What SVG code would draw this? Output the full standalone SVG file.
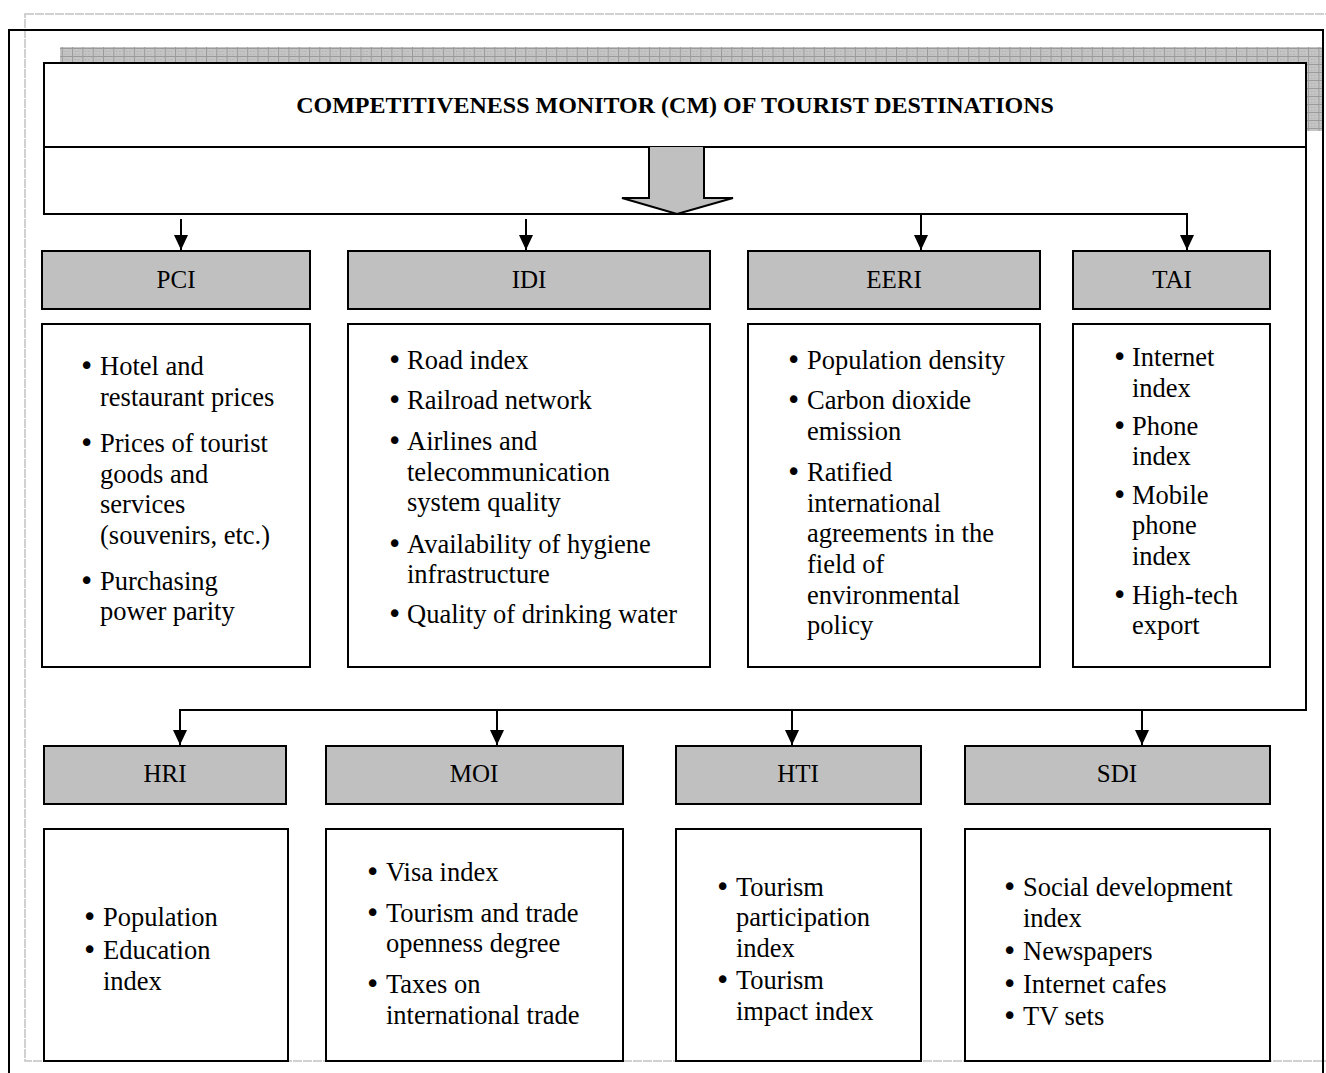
<svg xmlns="http://www.w3.org/2000/svg" width="1326" height="1073" viewBox="0 0 1326 1073">
<defs>
<style>
.t{font-family:"Liberation Serif","Times New Roman",serif;font-size:26.5px;fill:#000}
.b{font-family:"DejaVu Sans",sans-serif;font-size:26px;fill:#000}
.lbl{font-family:"Liberation Serif","Times New Roman",serif;font-size:25px;fill:#000;text-anchor:middle}
.title{font-family:"Liberation Serif","Times New Roman",serif;font-size:24px;font-weight:bold;fill:#000;text-anchor:middle}
.gbox{fill:#c0c0c0;stroke:#000;stroke-width:2}
.cbox{fill:#fff;stroke:#000;stroke-width:2}
.ln{fill:none;stroke:#000;stroke-width:2}
</style>
<pattern id="hatch" width="10.3" height="8" patternUnits="userSpaceOnUse">
<rect width="10.3" height="8" fill="#c4c4c4"/>
<path d="M0,0.5H10.3M0.5,0V8" stroke="#9a9a9a" stroke-width="1"/>
<path d="M3,3h1v1h-1zM6,3h1v1h-1zM3,6h1v1h-1zM6,6h1v1h-1z" fill="#aaa"/>
</pattern>
<marker id="ah" markerUnits="userSpaceOnUse" markerWidth="16" markerHeight="16" viewBox="0 0 16 16" refX="15" refY="8" orient="auto">
<path d="M0,1L15,8L0,15z" fill="#000"/>
</marker>
</defs>
<rect width="1326" height="1073" fill="#fff"/>
<g id="page-frame">
<rect x="25" y="14" width="1330" height="1047" fill="none" stroke="#c2c2c2" stroke-width="1.5" stroke-dasharray="9 1"/>
<path d="M9,1073V30H1323V1073" fill="none" stroke="#000" stroke-width="2"/>
</g>
<g id="header">
<rect x="60" y="47" width="1262" height="84" fill="url(#hatch)"/>
<rect x="44" y="63" width="1262" height="84" class="cbox"/>
<text x="675" y="113" class="title">COMPETITIVENESS MONITOR (CM) OF TOURIST DESTINATIONS</text>
<path d="M649,147V198H622L677,214L733,198H704V147" fill="#c0c0c0" stroke="#000" stroke-width="2" stroke-linejoin="miter"/>
</g>
<g id="connectors">
<path class="ln" d="M44,147V214H1187V250" marker-end="url(#ah)"/>
<path class="ln" d="M921,214V250" marker-end="url(#ah)"/>
<path class="ln" d="M181,219V250" marker-end="url(#ah)"/>
<path class="ln" d="M526,219V250" marker-end="url(#ah)"/>
<path class="ln" d="M1306,147V710H180V745" marker-end="url(#ah)"/>
<path class="ln" d="M497,710V745" marker-end="url(#ah)"/>
<path class="ln" d="M792,710V745" marker-end="url(#ah)"/>
<path class="ln" d="M1142,710V745" marker-end="url(#ah)"/>
</g>
<g id="PCI">
<rect x="42" y="251" width="268" height="58" class="gbox"/>
<text x="176" y="288" class="lbl">PCI</text>
<rect x="42" y="324" width="268" height="343" class="cbox"/>
<text class="b"><tspan x="79" y="375">•</tspan><tspan x="79" y="452">•</tspan><tspan x="79" y="590">•</tspan></text>
<text class="t"><tspan x="100" y="375">Hotel and</tspan><tspan x="100" y="406">restaurant prices</tspan><tspan x="100" y="452">Prices of tourist</tspan><tspan x="100" y="483">goods and</tspan><tspan x="100" y="513">services</tspan><tspan x="100" y="544">(souvenirs, etc.)</tspan><tspan x="100" y="590">Purchasing</tspan><tspan x="100" y="620">power parity</tspan></text>
</g>
<g id="IDI">
<rect x="348" y="251" width="362" height="58" class="gbox"/>
<text x="529" y="288" class="lbl">IDI</text>
<rect x="348" y="324" width="362" height="343" class="cbox"/>
<text class="b"><tspan x="387" y="369">•</tspan><tspan x="387" y="409">•</tspan><tspan x="387" y="450">•</tspan><tspan x="387" y="553">•</tspan><tspan x="387" y="623">•</tspan></text>
<text class="t"><tspan x="407" y="369">Road index</tspan><tspan x="407" y="409">Railroad network</tspan><tspan x="407" y="450">Airlines and</tspan><tspan x="407" y="481">telecommunication</tspan><tspan x="407" y="511">system quality</tspan><tspan x="407" y="553">Availability of hygiene</tspan><tspan x="407" y="583">infrastructure</tspan><tspan x="407" y="623">Quality of drinking water</tspan></text>
</g>
<g id="EERI">
<rect x="748" y="251" width="292" height="58" class="gbox"/>
<text x="894" y="288" class="lbl">EERI</text>
<rect x="748" y="324" width="292" height="343" class="cbox"/>
<text class="b"><tspan x="786" y="369">•</tspan><tspan x="786" y="409">•</tspan><tspan x="786" y="481">•</tspan></text>
<text class="t"><tspan x="807" y="369">Population density</tspan><tspan x="807" y="409">Carbon dioxide</tspan><tspan x="807" y="440">emission</tspan><tspan x="807" y="481">Ratified</tspan><tspan x="807" y="512">international</tspan><tspan x="807" y="542">agreements in the</tspan><tspan x="807" y="573">field of</tspan><tspan x="807" y="604">environmental</tspan><tspan x="807" y="634">policy</tspan></text>
</g>
<g id="TAI">
<rect x="1073" y="251" width="197" height="58" class="gbox"/>
<text x="1172" y="288" class="lbl">TAI</text>
<rect x="1073" y="324" width="197" height="343" class="cbox"/>
<text class="b"><tspan x="1112" y="366">•</tspan><tspan x="1112" y="435">•</tspan><tspan x="1112" y="504">•</tspan><tspan x="1112" y="604">•</tspan></text>
<text class="t"><tspan x="1132" y="366">Internet</tspan><tspan x="1132" y="397">index</tspan><tspan x="1132" y="435">Phone</tspan><tspan x="1132" y="465">index</tspan><tspan x="1132" y="504">Mobile</tspan><tspan x="1132" y="534">phone</tspan><tspan x="1132" y="565">index</tspan><tspan x="1132" y="604">High-tech</tspan><tspan x="1132" y="634">export</tspan></text>
</g>
<g id="HRI">
<rect x="44" y="746" width="242" height="58" class="gbox"/>
<text x="165" y="782" class="lbl">HRI</text>
<rect x="44" y="829" width="244" height="232" class="cbox"/>
<text class="b"><tspan x="82" y="926">•</tspan><tspan x="82" y="959">•</tspan></text>
<text class="t"><tspan x="103" y="926">Population</tspan><tspan x="103" y="959">Education</tspan><tspan x="103" y="990">index</tspan></text>
</g>
<g id="MOI">
<rect x="326" y="746" width="297" height="58" class="gbox"/>
<text x="474" y="782" class="lbl">MOI</text>
<rect x="326" y="829" width="297" height="232" class="cbox"/>
<text class="b"><tspan x="365" y="881">•</tspan><tspan x="365" y="922">•</tspan><tspan x="365" y="993">•</tspan></text>
<text class="t"><tspan x="386" y="881">Visa index</tspan><tspan x="386" y="922">Tourism and trade</tspan><tspan x="386" y="952">openness degree</tspan><tspan x="386" y="993">Taxes on</tspan><tspan x="386" y="1024">international trade</tspan></text>
</g>
<g id="HTI">
<rect x="676" y="746" width="245" height="58" class="gbox"/>
<text x="798" y="782" class="lbl">HTI</text>
<rect x="676" y="829" width="245" height="232" class="cbox"/>
<text class="b"><tspan x="715" y="896">•</tspan><tspan x="715" y="989">•</tspan></text>
<text class="t"><tspan x="736" y="896">Tourism</tspan><tspan x="736" y="926">participation</tspan><tspan x="736" y="957">index</tspan><tspan x="736" y="989">Tourism</tspan><tspan x="736" y="1020">impact index</tspan></text>
</g>
<g id="SDI">
<rect x="965" y="746" width="305" height="58" class="gbox"/>
<text x="1117" y="782" class="lbl">SDI</text>
<rect x="965" y="829" width="305" height="232" class="cbox"/>
<text class="b"><tspan x="1002" y="896">•</tspan><tspan x="1002" y="960">•</tspan><tspan x="1002" y="993">•</tspan><tspan x="1002" y="1025">•</tspan></text>
<text class="t"><tspan x="1023" y="896">Social development</tspan><tspan x="1023" y="927">index</tspan><tspan x="1023" y="960">Newspapers</tspan><tspan x="1023" y="993">Internet cafes</tspan><tspan x="1023" y="1025">TV sets</tspan></text>
</g>
</svg>
